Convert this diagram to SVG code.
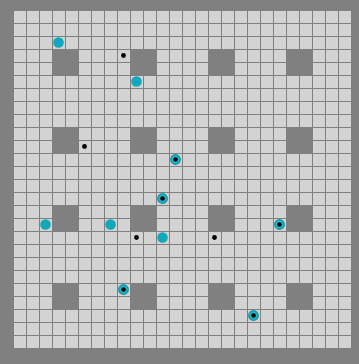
<svg xmlns="http://www.w3.org/2000/svg" width="359" height="364" viewBox="0 0 359 364">
<defs>
<pattern id="cell" patternUnits="userSpaceOnUse" x="13" y="10" width="13" height="13">
<rect width="13" height="13" fill="#808080"/>
<rect x="1" y="1" width="12" height="12" fill="#d3d3d3"/>
</pattern>
</defs>
<style>
.blk{fill:#808080}
.tl{fill:#12a8bc}
.tr{fill:#1fb6ca;stroke:#0f90a2;stroke-width:1.2}
.dot{fill:#000}
</style>
<rect width="359" height="364" fill="#808080"/>
<rect x="13" y="10" width="338" height="338" fill="url(#cell)"/>
<g id="blocks">
<rect class="blk" x="52" y="49" width="27" height="27"/>
<rect class="blk" x="130" y="49" width="27" height="27"/>
<rect class="blk" x="208" y="49" width="27" height="27"/>
<rect class="blk" x="286" y="49" width="27" height="27"/>
<rect class="blk" x="52" y="127" width="27" height="27"/>
<rect class="blk" x="130" y="127" width="27" height="27"/>
<rect class="blk" x="208" y="127" width="27" height="27"/>
<rect class="blk" x="286" y="127" width="27" height="27"/>
<rect class="blk" x="52" y="205" width="27" height="27"/>
<rect class="blk" x="130" y="205" width="27" height="27"/>
<rect class="blk" x="208" y="205" width="27" height="27"/>
<rect class="blk" x="286" y="205" width="27" height="27"/>
<rect class="blk" x="52" y="283" width="27" height="27"/>
<rect class="blk" x="130" y="283" width="27" height="27"/>
<rect class="blk" x="208" y="283" width="27" height="27"/>
<rect class="blk" x="286" y="283" width="27" height="27"/>
</g>
<g id="agents">
<circle class="tl" cx="58.5" cy="42.5" r="5.3"/>
<circle class="tl" cx="136.5" cy="81.5" r="5.3"/>
<circle class="tl" cx="45.5" cy="224.5" r="5.3"/>
<circle class="tl" cx="110.5" cy="224.5" r="5.3"/>
<circle class="tl" cx="162.5" cy="237.5" r="5.3"/>
</g>
<g id="agents-on-goal">
<circle class="tr" cx="175.5" cy="159.5" r="4.8"/><circle class="dot" cx="175.5" cy="159.5" r="2.3"/>
<circle class="tr" cx="162.5" cy="198.5" r="4.8"/><circle class="dot" cx="162.5" cy="198.5" r="2.3"/>
<circle class="tr" cx="279.5" cy="224.5" r="4.8"/><circle class="dot" cx="279.5" cy="224.5" r="2.3"/>
<circle class="tr" cx="123.5" cy="289.5" r="4.8"/><circle class="dot" cx="123.5" cy="289.5" r="2.3"/>
<circle class="tr" cx="253.5" cy="315.5" r="4.8"/><circle class="dot" cx="253.5" cy="315.5" r="2.3"/>
</g>
<g id="goals">
<circle class="dot" cx="123.5" cy="55.5" r="2.4"/>
<circle class="dot" cx="84.5" cy="146.5" r="2.4"/>
<circle class="dot" cx="136.5" cy="237.5" r="2.4"/>
<circle class="dot" cx="214.5" cy="237.5" r="2.4"/>
</g>
<g id="connectors"/>
</svg>
